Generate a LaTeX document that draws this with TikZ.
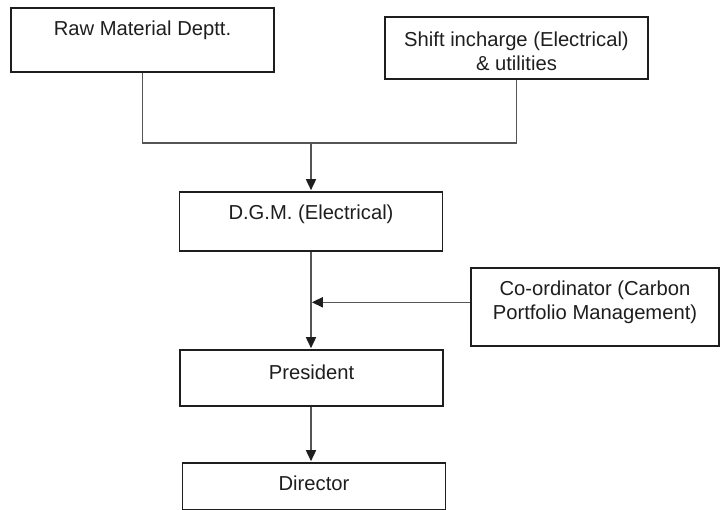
\documentclass[tikz,border=0pt]{standalone}
\usepackage{fontspec}
\setmainfont{Liberation Sans}
\usepackage{tikz}
\usetikzlibrary{arrows.meta}
\definecolor{chartink}{RGB}{30,30,30}
\definecolor{chartline}{RGB}{85,85,85}

\begin{document}
\begin{tikzpicture}[x=0.5pt,y=-0.5pt,
      box/.style={draw=chartink,line width=0.8pt,anchor=north,align=center,
        minimum width=131.5pt,inner xsep=2pt,inner ysep=0pt,text=chartink,
        font=\fontsize{10.1pt}{12pt}\selectfont},
      l/.style={chartline,line width=0.8pt},
      a/.style={l,-{Triangle[length=5.5pt,width=5pt,color=chartink]},shorten >=0.4pt}]
    \useasboundingbox (0,0) rectangle (720,510);
    \node[box,text height=14pt,text depth=18pt] (raw) at (142.5,7) {Raw Material Deptt.};
    \node[box,text height=26.6pt,text depth=4.4pt] (shift) at (516.5,16) {Shift incharge (Electrical)\\\& utilities};
    \node[box,text height=14pt,text depth=15.5pt] (dgm) at (311,191) {D.G.M. (Electrical)};
    \node[box,minimum width=124pt,text height=25.6pt,text depth=13.4pt] (coord) at (595,267) {Co-ordinator (Carbon\\Portfolio Management)};
    \node[box,text height=15pt,text depth=13pt] (pres) at (311.5,349) {President};
    \node[box,text height=13.6pt,text depth=9.8pt] (dir) at (314,462) {Director};
    \coordinate (join) at (311,143);
    \draw[l] (raw.south) |- (join) -| (shift.south);
    \draw[a] (join) -- (join |- dgm.north);
    \draw[a] (dgm.south) -- (dgm.south |- pres.north);
    \draw[a] ([yshift=2.25pt]coord.west) -- ([yshift=2.25pt]coord.west -| dgm.south);
    \draw[a] (pres.south -| dgm.south) -- (dgm.south |- dir.north);
  \end{tikzpicture}
\end{document}
